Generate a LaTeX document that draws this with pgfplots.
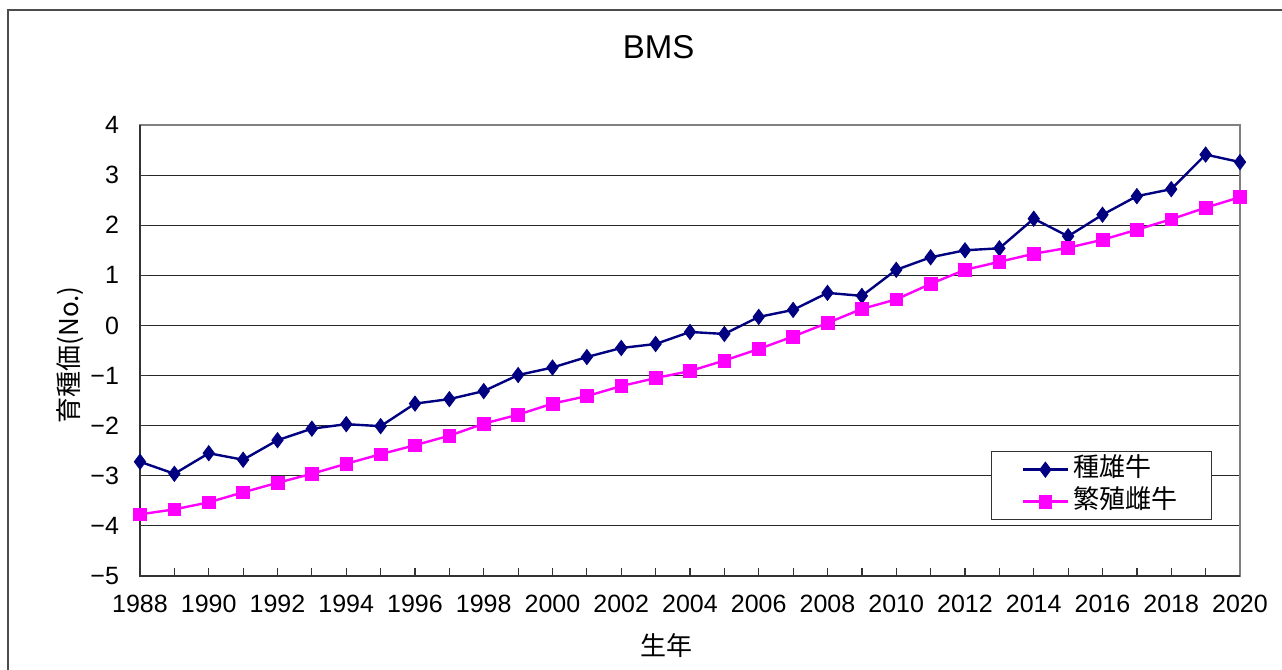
\documentclass[border=0pt]{standalone}
\usepackage{fontspec}
\setmainfont{Liberation Sans}
\newfontfamily\jp{Noto Sans CJK JP}
\usepackage{pgfplots}
\pgfplotsset{compat=1.18}
\definecolor{navy}{HTML}{000080}
\definecolor{mag}{HTML}{FF00FF}
\begin{document}
\begin{tikzpicture}
\path[use as bounding box] (-70pt,-47pt) rectangle (571pt,288pt);
\draw[black!70, line width=0.7pt] (-66pt,-60pt) -- (-66pt,283pt) -- (580pt,283pt);
\begin{axis}[
  at={(0,0)}, anchor=south west,
  scale only axis, width=550pt, height=225.5pt,
  xmin=1988, xmax=2020, ymin=-5, ymax=4,
  clip=false,
  /pgf/number format/assume math mode=true,
  /pgf/number format/1000 sep={},
  xtick={1988,1990,...,2020},
  minor xtick={1989,1991,...,2019},
  ytick={-5,-4,...,4},
  yticklabels={−5,−4,−3,−2,−1,0,1,2,3,4},
  xtick pos=bottom, ytick pos=left,
  tick align=inside,
  major tick length=4pt, minor tick length=4pt,
  tick style={black!80, line width=0.6pt},
  ymajorgrids,
  major grid style={black!85, line width=0.6pt},
  axis line style={black!50, line width=1pt},
  ticklabel style={font=\fontsize{12.5}{14}\selectfont},
  xticklabel style={yshift=-6pt},
  yticklabel style={xshift=-7pt},
  title={BMS},
  title style={at={(axis description cs:0.4715,1.146)}, anchor=center, font=\fontsize{16.5}{18}\selectfont},
  xlabel={生年},
  xlabel style={at={(axis description cs:0.479,-0.155)}, anchor=center, font=\jp\fontsize{13}{15}\selectfont},
  ylabel={育種価(No.)},
  ylabel style={at={(axis description cs:-0.0636,0.49)}, anchor=center, font=\jp\fontsize{13}{15}\selectfont},
  legend cell align=left,
  legend image code/.code={\draw[mark repeat=2,mark phase=2,#1] plot coordinates {(0cm,0cm) (0.4cm,0cm) (0.8cm,0cm)};},
  legend style={at={(0.9745,0.277)}, anchor=north east, draw=black!80, line width=0.6pt, fill=white,
    font=\jp\fontsize{13}{15}\selectfont, row sep=0pt, inner xsep=15pt, inner ysep=1pt,
    nodes={text height=10pt, text depth=3pt, inner ysep=1.5pt}},
]
\addplot[navy, line width=1.2pt, mark=diamond*, mark size=3.8pt, mark options={solid, fill=navy, draw=navy, line width=0.4pt}] coordinates {
(1988,-2.72) (1989,-2.96) (1990,-2.55) (1991,-2.68) (1992,-2.29) (1993,-2.06)
(1994,-1.97) (1995,-2.01) (1996,-1.56) (1997,-1.47) (1998,-1.31) (1999,-0.99)
(2000,-0.84) (2001,-0.63) (2002,-0.45) (2003,-0.37) (2004,-0.13) (2005,-0.17)
(2006,0.17) (2007,0.31) (2008,0.65) (2009,0.59) (2010,1.11) (2011,1.36)
(2012,1.50) (2013,1.54) (2014,2.13) (2015,1.78) (2016,2.21) (2017,2.58)
(2018,2.72) (2019,3.41) (2020,3.26)};
\addlegendentry{種雄牛}
\addplot[mag, line width=1.2pt, mark=square*, mark size=3.2pt, mark options={solid, fill=mag, draw=mag, line width=0.3pt}] coordinates {
(1988,-3.77) (1989,-3.67) (1990,-3.53) (1991,-3.33) (1992,-3.14) (1993,-2.96)
(1994,-2.76) (1995,-2.57) (1996,-2.39) (1997,-2.20) (1998,-1.96) (1999,-1.78)
(2000,-1.56) (2001,-1.41) (2002,-1.21) (2003,-1.05) (2004,-0.91) (2005,-0.70)
(2006,-0.47) (2007,-0.22) (2008,0.05) (2009,0.33) (2010,0.52) (2011,0.83)
(2012,1.11) (2013,1.27) (2014,1.43) (2015,1.55) (2016,1.71) (2017,1.91)
(2018,2.12) (2019,2.35) (2020,2.56)};
\addlegendentry{繁殖雌牛}
\draw[black!80, line width=1pt] (rel axis cs:0,1) -- (rel axis cs:0,0) -- (rel axis cs:1,0);
\end{axis}
\end{tikzpicture}
\end{document}
